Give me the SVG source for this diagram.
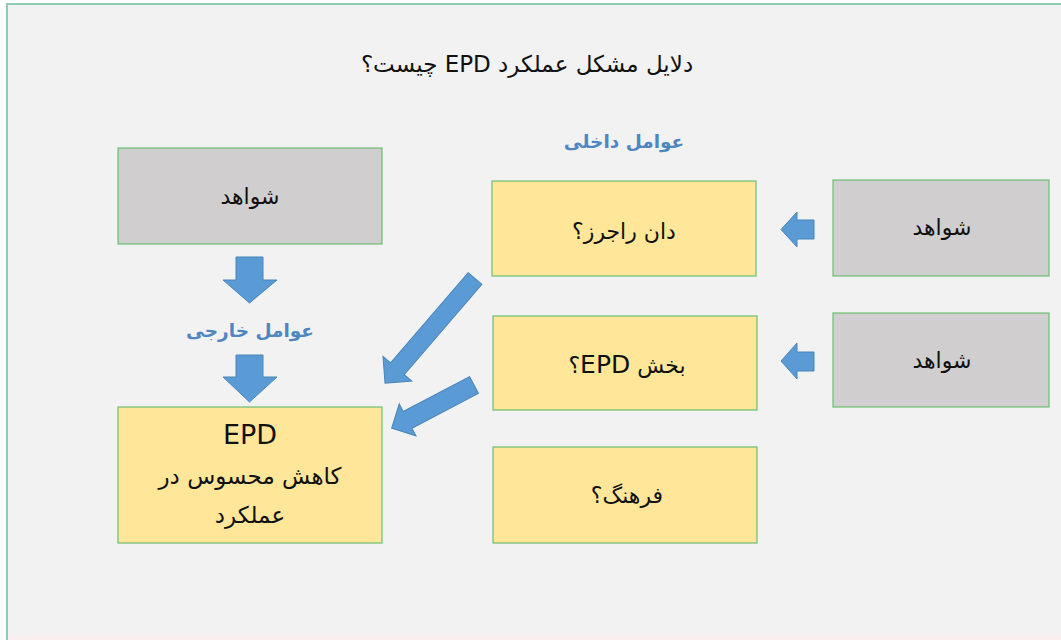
<svg xmlns="http://www.w3.org/2000/svg" width="1061" height="640" viewBox="0 0 1061 640">
  <style>
    .frame { fill: #f2f2f2; stroke: #8ecdb0; stroke-width: 2; }
    .gray { fill: #d0cece; stroke: #6cbf72; stroke-width: 1.2; }
    .yellow { fill: #ffe699; stroke: #6cbf72; stroke-width: 1.2; }
    .arrow { fill: #5b9bd5; stroke: #4a84ba; stroke-width: 1; stroke-linejoin: miter; }
    text { font-family: "DejaVu Sans", "Noto Sans", sans-serif; fill: #111; text-anchor: middle; }
    .fa { font-size: 22px; direction: rtl; }
    .big { font-size: 23px; direction: rtl; }
    .latin { font-size: 27px; }
    .head { font-size: 18.5px; font-weight: bold; fill: #4f86c0; direction: rtl; }
    .title { font-size: 23px; direction: rtl; }
  </style>

  <rect x="0" y="0" width="1061" height="640" fill="#ffffff"/>
  <!-- slide frame runs past the right and bottom edges -->
  <rect class="frame" x="7" y="4" width="1070" height="650"/>
  <rect x="8" y="636" width="1053" height="4" fill="#fbeeee"/>

  <text class="title" x="527" y="72">دلایل مشکل عملکرد EPD چیست؟</text>
  <text class="head" x="624" y="148">عوامل داخلی</text>
  <text class="head" x="250" y="337">عوامل خارجی</text>

  <g id="evidence-left">
    <rect class="gray" x="118" y="148" width="264" height="96"/>
    <text class="fa" x="250" y="204">شواهد</text>
  </g>

  <g id="epd-result">
    <rect class="yellow" x="118" y="407" width="264" height="136"/>
    <text class="latin" x="250" y="444">EPD</text>
    <text class="big" x="250" y="484">کاهش محسوس در</text>
    <text class="big" x="250" y="523">عملکرد</text>
  </g>

  <g id="don-rogers">
    <rect class="yellow" x="492" y="181" width="264" height="95"/>
    <text class="fa" x="624" y="239">دان راجرز؟</text>
  </g>

  <g id="epd-sector">
    <rect class="yellow" x="493" y="316" width="264" height="94"/>
    <text class="fa" x="627" y="373">بخش <tspan font-size="25">EPD</tspan>؟</text>
  </g>

  <g id="culture">
    <rect class="yellow" x="493" y="447" width="264" height="96"/>
    <text class="fa" x="627" y="503">فرهنگ؟</text>
  </g>

  <g id="evidence-top-right">
    <rect class="gray" x="833" y="180" width="216" height="96"/>
    <text class="fa" x="942" y="235">شواهد</text>
  </g>

  <g id="evidence-mid-right">
    <rect class="gray" x="833" y="313" width="216" height="94"/>
    <text class="fa" x="942" y="368">شواهد</text>
  </g>

  <g id="connectors">
    <!-- vertical block arrows on the left column -->
    <polygon class="arrow" points="236,257 263,257 263,280 277,280 249.5,303 223,280 236,280"/>
    <polygon class="arrow" points="236,355 263,355 263,377 277,377 249.5,402 223,377 236,377"/>
    <!-- horizontal block arrows from the evidence boxes -->
    <polygon class="arrow" points="814,220 814,239 797,239 797,247 781,229.5 797,212 797,220"/>
    <polygon class="arrow" points="814,352 814,371 797,371 797,379 781,361 797,343 797,352"/>
    <!-- diagonal arrows into the result box -->
    <polygon class="arrow" transform="translate(475,278.5) rotate(130.7)" points="0,-9 119,-9 119,-19 138,0 119,19 119,9 0,9"/>
    <polygon class="arrow" transform="translate(474,385) rotate(152.3)" points="0,-9.5 75,-9.5 75,-18 93,0 75,18 75,9.5 0,9.5"/>
  </g>
</svg>
